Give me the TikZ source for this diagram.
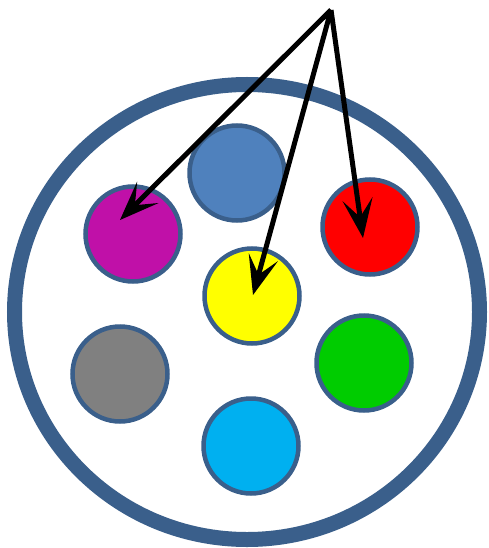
\documentclass[tikz,border=0pt]{standalone}
\usepackage{tikz}
\usetikzlibrary{arrows.meta}
\definecolor{ringBlue}{HTML}{3A5F8B}
\definecolor{dotBlue}{HTML}{4F81BD}
\definecolor{dotMagenta}{HTML}{C010A8}
\definecolor{dotRed}{HTML}{FF0000}
\definecolor{dotYellow}{HTML}{FFFF00}
\definecolor{dotGray}{HTML}{808080}
\definecolor{dotGreen}{HTML}{00CC00}
\definecolor{dotCyan}{HTML}{00B0F0}
\tikzset{
  dot/.style={circle, draw=ringBlue, line width=4.5pt, inner sep=0pt,
              minimum size=95pt},
  pointer/.style={-{Stealth[length=39pt, width=30pt, inset=18pt]},
                  line width=5pt, black},
}
\begin{document}
\begin{tikzpicture}[x=1pt, y=-1pt]
    \useasboundingbox (0,0) rectangle (489,548);
    % outer ring
    \draw[ringBlue, line width=15pt] (247,312) ellipse [x radius=232.5, y radius=227.5];
    % the seven dots
    \node[dot, fill=dotBlue]    (blu) at (237,173) {};
    \node[dot, fill=dotMagenta] (mag) at (133,234) {};
    \node[dot, fill=dotRed]     (red) at (370,227) {};
    \node[dot, fill=dotYellow]  (yel) at (252,296) {};
    \node[dot, fill=dotGray]    (gry) at (120,374) {};
    \node[dot, fill=dotGreen]   (grn) at (364,363) {};
    \node[dot, fill=dotCyan]    (cya) at (251,446) {};
    % arrows from the top
    \coordinate (top) at (331,10);
    \draw[pointer] (top) -- ([shift={(-13,-14)}]mag.center);
    \draw[pointer] (top) -- ([shift={(1,-1)}]yel.center);
    \draw[pointer] (top) -- ([shift={(-7,11)}]red.center);
\end{tikzpicture}
\end{document}
